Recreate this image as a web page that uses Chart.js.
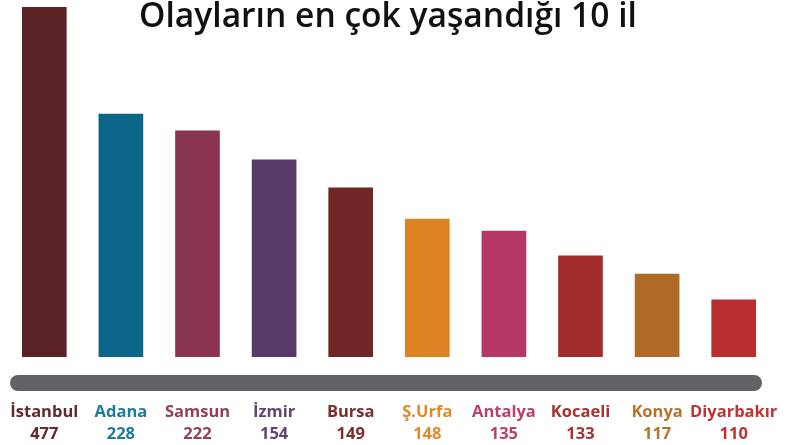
<!DOCTYPE html>
<html>
<head>
<meta charset="utf-8">
<script src="https://cdn.jsdelivr.net/npm/chart.js@4/dist/chart.umd.min.js"></script>
<style>
  html, body { margin: 0; padding: 0; background: #fff; }
  #wrap { width: 790px; height: 445px; }
</style>
</head>
<body>
<div id="wrap"><canvas id="ilchart"></canvas></div>
<script>
// the infographic does not draw its bars to scale, so the bar lengths are
// read off the picture separately (index: İstanbul = 100)
const cities = ['İstanbul', 'Adana', 'Samsun', 'İzmir', 'Bursa', 'Ş.Urfa', 'Antalya', 'Kocaeli', 'Konya', 'Diyarbakır'];
const counts = [477, 228, 222, 154, 149, 148, 135, 133, 117, 110];
const barIndex = [100, 69.4, 64.6, 56.3, 48.3, 39.4, 36, 28.9, 23.7, 16.3];
const colors = ['#5a2224', '#0b6587', '#8a3653', '#583a69', '#702726', '#dc8323', '#b43766', '#a22c2b', '#b06a27', '#b82d2d'];
const labelColors = ['#642a2d', '#1a7b9c', '#94405d', '#634474', '#7a2f2d', '#e08a2c', '#bc3f6e', '#a83231', '#b8722e', '#bf3433'];
const titleText = 'Olayların en çok yaşandığı 10 il';

document.addEventListener('DOMContentLoaded', function () {
    const ctx = document.getElementById('ilchart').getContext('2d');

    // grey rounded strip under the bars + the title, drawn by hand
    const decor = {
        id: 'decor',
        beforeDatasetsDraw: function (chart) {
            const c = chart.ctx;
            c.save();
            c.fillStyle = '#636166';
            c.beginPath();
            c.roundRect(10, 375, 752, 16, 8);
            c.fill();
            c.restore();
        },
        afterDraw: function (chart) {
            const c = chart.ctx;
            c.save();
            c.fillStyle = '#111';
            c.font = '600 33.6px "Open Sans"';
            c.textAlign = 'center';
            c.textBaseline = 'alphabetic';
            c.fillText(titleText, 388, 27);
            c.restore();
        }
    };

    const chart = new Chart(ctx, {
        type: 'bar',
        data: {
            labels: cities.map(function (c, i) { return [c, String(counts[i])]; }),
            datasets: [{
                data: barIndex,
                backgroundColor: colors,
                barThickness: 44
            }]
        },
        options: {
            responsive: true,
            maintainAspectRatio: false,
            animation: false,
            layout: { padding: { top: 7, left: 6, right: 18, bottom: 0 } },
            plugins: {
                legend: { display: false },
                tooltip: { enabled: false }
            },
            scales: {
                x: {
                    grid: { display: false },
                    border: { display: false },
                    afterFit: function (scale) {
                        scale.height = 88;
                        scale.paddingLeft = 0;
                        scale.paddingRight = 0;
                    },
                    ticks: {
                        padding: 36,
                        color: labelColors,
                        font: { family: 'Open Sans', weight: 'bold', size: 16.5, lineHeight: 1.36 },
                        maxRotation: 0,
                        autoSkip: false
                    }
                },
                y: {
                    display: false,
                    min: 0,
                    max: 100
                }
            }
        },
        plugins: [decor]
    });
});
</script>
</body>
</html>
